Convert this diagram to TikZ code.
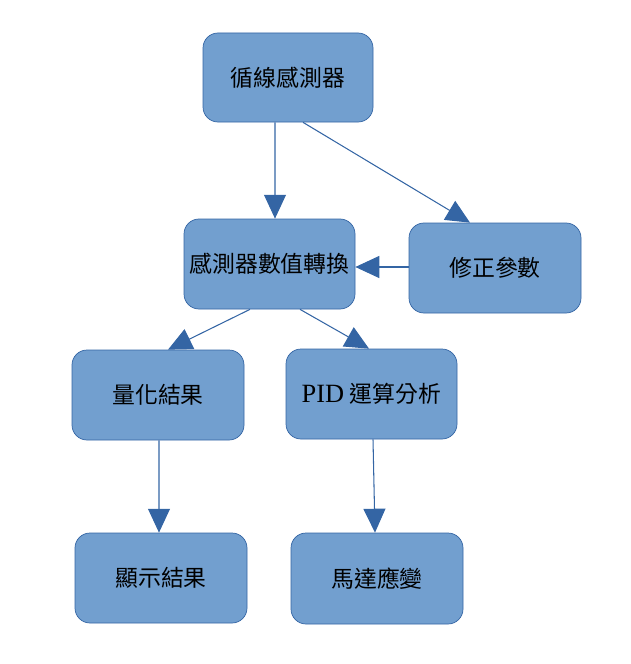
\documentclass[tikz,border=0pt]{standalone}
\usepackage{fontspec}
\setmainfont{Liberation Serif}
\newfontfamily\cjk{Noto Sans CJK TC}
\usepackage{xcolor}
\usepackage{tikz}
\usetikzlibrary{arrows.meta}
\definecolor{boxfill}{HTML}{729FCF}
\definecolor{boxline}{HTML}{3465A4}

\begin{document}
\begin{tikzpicture}[transform shape,scale=1,
		box/.style={draw=boxline,fill=boxfill,rounded corners=0.3cm,minimum width=3.42cm,minimum height=1.80cm,inner sep=0pt,font=\fontsize{13}{15}\selectfont},
		arr/.style={draw=boxline,line width=0.6pt,-{Triangle[length=13.6pt,width=12.5pt]}}]
		\useasboundingbox (0,0) rectangle (12.62,-13.28);
		\node[box,minimum width=3.40cm,minimum height=1.78cm] (sensor) at (5.76,-1.55) {\cjk 循線感測器};
		\node[box] (conv) at (5.39,-5.28) {\cjk 感測器數值轉換};
		\node[box,minimum width=3.44cm] (fix) at (9.90,-5.36) {\cjk 修正參數};
		\node[box,minimum width=3.44cm] (quant) at (3.16,-7.90) {\cjk 量化結果};
		\node[box] (pid) at (7.43,-7.88) {{\fontsize{15}{15}\selectfont PID} {\cjk 運算分析}};
		\node[box,minimum width=3.44cm] (disp) at (3.22,-11.56) {\cjk 顯示結果};
		\node[box,minimum width=3.44cm,minimum height=1.82cm] (motor) at (7.54,-11.57) {\cjk 馬達應變};
		\draw[arr] ([xshift=-0.26cm]sensor.south) -- ([xshift=0.11cm]conv.north);
		\draw[arr] ([xshift=0.30cm]sensor.south) -- ([xshift=-0.50cm]fix.north);
		\draw[arr] ([yshift=0.02cm]fix.west) -- ([yshift=0.02cm]fix.west -| conv.east);
		\draw[arr] ([xshift=-0.39cm]conv.south) -- ([xshift=0.20cm]quant.north);
		\draw[arr] ([xshift=0.61cm]conv.south) -- ([xshift=-0.05cm]pid.north);
		\draw[arr] ([xshift=0.02cm]quant.south) -- ([xshift=-0.04cm]disp.north);
		\draw[arr] ([xshift=0.03cm]pid.south) -- ([xshift=-0.04cm]motor.north);
\end{tikzpicture}
\end{document}
